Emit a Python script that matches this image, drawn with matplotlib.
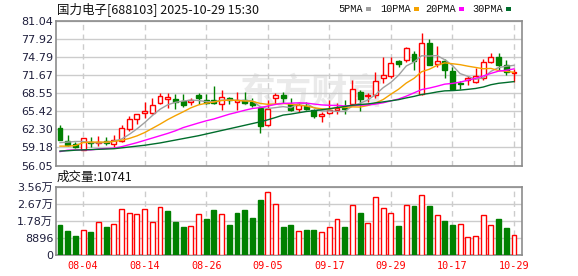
import numpy as np
import matplotlib.pyplot as plt
from matplotlib.patches import Rectangle

plt.rcParams['font.family'] = ['DejaVu Sans', 'Noto Sans CJK SC']

# trading days shown (07-30 .. 10-29)
dates = ['07-30', '07-31', '08-01', '08-04', '08-05', '08-06', '08-07', '08-08', '08-11', '08-12',
         '08-13', '08-14', '08-15', '08-18', '08-19', '08-20', '08-21', '08-22', '08-25', '08-26',
         '08-27', '08-28', '08-29', '09-01', '09-02', '09-03', '09-04', '09-05', '09-08', '09-09',
         '09-10', '09-11', '09-12', '09-15', '09-16', '09-17', '09-18', '09-19', '09-22', '09-23',
         '09-24', '09-25', '09-26', '09-29', '09-30', '10-09', '10-10', '10-13', '10-14', '10-15',
         '10-16', '10-17', '10-20', '10-21', '10-22', '10-23', '10-24', '10-27', '10-28', '10-29']

opens = [62.47, 60.34, 59.77, 58.74, 60.17, 59.95, 60.34, 59.77, 60.29, 62.35,
         64.06, 65.14, 65.09, 66.93, 67.61, 67.58, 67.20, 67.03, 68.23, 67.32,
         67.32, 66.63, 67.66, 67.10, 67.32, 67.10, 66.07, 63.08, 67.78, 68.18,
         66.75, 65.78, 66.40, 65.66, 64.53, 65.21, 65.66, 66.07, 66.75, 68.81,
         68.06, 68.23, 71.21, 71.49, 74.18, 74.23, 75.29, 68.35, 77.22, 73.61,
         74.06, 72.47, 70.36, 70.80, 70.46, 71.21, 73.96, 74.75, 73.49, 72.12]
highs = [63.03, 61.37, 60.17, 60.85, 60.92, 61.20, 61.03, 61.37, 62.98, 64.63,
         65.04, 67.03, 67.66, 68.64, 68.64, 68.47, 68.47, 67.66, 68.64, 68.40,
         69.77, 69.03, 67.89, 68.74, 68.81, 67.66, 66.10, 67.32, 68.52, 68.74,
         67.66, 67.10, 67.10, 65.90, 65.38, 67.32, 66.93, 67.32, 70.92, 69.04,
         68.64, 72.24, 74.75, 74.75, 74.35, 76.46, 75.77, 78.93, 77.95, 76.75,
         74.52, 73.03, 70.63, 71.49, 72.93, 74.47, 75.50, 75.50, 74.23, 72.76]
lows = [60.46, 59.48, 59.09, 58.65, 59.31, 59.48, 59.65, 59.31, 60.12, 62.06,
        63.20, 64.35, 64.92, 66.75, 66.07, 65.90, 66.17, 66.51, 66.63, 66.69,
        66.63, 65.66, 66.75, 65.66, 66.63, 66.17, 61.61, 62.91, 66.75, 66.93,
        65.49, 65.38, 65.60, 64.23, 63.60, 65.04, 65.04, 65.04, 66.63, 65.49,
        67.10, 67.78, 70.36, 71.21, 73.03, 73.96, 72.52, 68.23, 73.37, 73.03,
        71.21, 69.04, 69.21, 69.94, 70.29, 70.92, 73.79, 72.64, 71.78, 70.53]
closes = [60.51, 59.65, 59.26, 60.75, 59.95, 60.17, 60.00, 60.46, 62.52, 64.01,
          64.92, 65.43, 66.51, 68.01, 67.89, 67.06, 66.51, 67.32, 67.66, 66.93,
          66.90, 67.95, 67.37, 67.35, 66.93, 66.51, 62.91, 65.78, 68.18, 67.78,
          65.60, 66.51, 65.78, 64.53, 65.04, 65.60, 66.07, 65.78, 69.21, 67.49,
          68.30, 70.75, 71.78, 73.79, 73.67, 76.29, 74.18, 77.22, 73.49, 74.18,
          72.64, 69.21, 70.18, 71.21, 71.49, 73.96, 74.81, 73.49, 72.20, 72.24]

ma5 = [60.0, 60.1, 60.2, 60.2, 60.02, 59.96, 60.03, 60.27, 60.62, 61.43,
       62.38, 63.47, 64.68, 65.78, 66.55, 66.98, 67.20, 67.36, 67.29, 67.10,
       67.07, 67.36, 67.37, 67.31, 67.31, 67.23, 66.22, 65.90, 66.06, 66.23,
       66.05, 66.77, 66.77, 66.04, 65.49, 65.49, 65.40, 65.40, 66.34, 66.83,
       67.37, 68.31, 69.51, 70.42, 71.66, 73.26, 73.94, 75.03, 74.97, 75.07,
       74.34, 73.35, 71.94, 71.48, 70.95, 71.21, 72.33, 72.99, 73.22, 73.37]
ma10 = [59.4, 59.4, 59.5, 60.0, 60.1, 60.1, 60.1, 60.2, 60.4, 60.73,
        61.17, 61.75, 62.47, 63.20, 63.99, 64.68, 65.33, 66.02, 66.53, 66.82,
        67.03, 67.28, 67.36, 67.30, 67.20, 67.15, 66.79, 66.63, 66.69, 66.77,
        66.64, 66.49, 66.34, 66.05, 65.86, 65.77, 66.09, 66.09, 66.19, 66.16,
        66.43, 66.86, 67.46, 68.38, 69.24, 70.31, 71.12, 72.27, 72.70, 73.37,
        73.80, 73.65, 73.49, 73.23, 73.01, 72.78, 72.84, 72.47, 72.35, 72.16]
ma20 = [58.45, 58.7, 58.75, 58.75, 58.75, 58.9, 59.0, 59.05, 59.3, 59.65,
        60.0, 60.4, 60.8, 61.2, 61.6, 62.05, 62.6, 63.0, 63.4, 63.78,
        64.10, 64.51, 64.92, 65.25, 65.60, 65.91, 66.06, 66.33, 66.61, 66.80,
        66.83, 66.89, 66.85, 66.68, 66.53, 66.46, 66.44, 66.36, 66.44, 66.47,
        66.53, 66.67, 66.90, 67.22, 67.55, 68.04, 68.61, 69.18, 69.44, 69.76,
        70.12, 70.25, 70.47, 70.80, 71.13, 71.54, 71.98, 72.37, 72.52, 72.76]
ma30 = [58.55, 58.6, 58.7, 58.75, 58.8, 58.85, 58.9, 58.95, 59.1, 59.25,
        59.4, 59.55, 59.75, 59.95, 60.2, 60.45, 60.7, 60.95, 61.2, 61.5,
        61.8, 62.1, 62.4, 62.7, 63.0, 63.3, 63.6, 63.95, 64.35, 64.77,
        64.94, 65.17, 65.39, 65.52, 65.69, 65.87, 66.07, 66.25, 66.47, 66.59,
        66.70, 66.88, 67.05, 67.24, 67.44, 67.74, 68.00, 68.33, 68.52, 68.77,
        68.96, 69.00, 69.09, 69.22, 69.37, 69.62, 70.02, 70.27, 70.41, 70.56]

volumes = [15490, 12420, 9870, 12940, 11910, 17030, 14470, 16000, 24030, 21990,
           21630, 24030, 17380, 25210, 23160, 17030, 14470, 15340, 21470, 19070,
           23670, 21630, 15490, 22140, 23670, 19580, 28790, 32880, 26740, 14470,
           15490, 12420, 12940, 12940, 11910, 14470, 18920, 14470, 26230, 22140,
           16520, 30320, 24700, 22140, 14980, 26230, 25720, 31340, 25720, 21120,
           18050, 15490, 16000, 9360, 10230, 21120, 15490, 19070, 13960, 10741]

price_ticks = ['56.05', '59.18', '62.30', '65.42', '68.55', '71.67', '74.79', '77.92', '81.04']
vol_ticks = ['0', '8896', '1.78万', '2.67万', '3.56万']
label_idx = [3, 11, 19, 27, 35, 43, 51, 59]

RED = '#ff0000'
GREEN = '#008000'
GRID = '#cccccc'
FRAME = '#8c8c8c'
TXT = '#1e1e3c'

o = np.array(opens); h = np.array(highs); l = np.array(lows); c = np.array(closes)
x = np.arange(len(dates))
up = c >= o
prev = np.concatenate([[o[0]], c[:-1]])
vup = c >= prev

fig = plt.figure(figsize=(5.78, 2.76), dpi=100)
W, H = 578, 276
ax = fig.add_axes([56 / W, 1 - 165.5 / H, 466 / W, 144.5 / H])
axv = fig.add_axes([56 / W, 1 - 255.3 / H, 466 / W, 68.6 / H])

# watermark
ax.text(0.55, 0.5, '东方财富', transform=ax.transAxes, ha='center', va='center',
        fontsize=26, fontweight='bold', color='#eaeaea', family='Noto Sans CJK SC', zorder=0)

bw = 0.64
for a in (ax, axv):
    a.set_xlim(-0.52, 60.04)
    a.set_xticks(label_idx)
    a.grid(axis='x', color=GRID, linestyle=(0, (4, 3)), linewidth=1)
    a.grid(axis='y', color=GRID, linestyle='-', linewidth=1)
    a.set_axisbelow(True)
    for s in a.spines.values():
        s.set_color(FRAME)
        s.set_linewidth(1.2)
    a.tick_params(length=0, labelsize=8, pad=2, colors=TXT)

# candles
ax.vlines(x[up], l[up], h[up], color=RED, linewidth=1, zorder=2)
ax.vlines(x[~up], l[~up], h[~up], color=GREEN, linewidth=1, zorder=2)
body = np.maximum(np.abs(c - o), 0.06)
ax.bar(x[up], body[up], bottom=o[up], width=bw, facecolor='white', edgecolor=RED,
       linewidth=1, zorder=3)
ax.bar(x[~up], body[~up], bottom=c[~up], width=bw, facecolor=GREEN, edgecolor=GREEN,
       linewidth=1, zorder=3)

ax.plot(x, ma5, color='#a0a0a0', linewidth=1, zorder=4)
ax.plot(x, ma10, color='#f5a200', linewidth=1, zorder=4)
ax.plot(x, ma20, color='#ff00ff', linewidth=1, zorder=4)
ax.plot(x, ma30, color='#006d2c', linewidth=1, zorder=4)

pt = np.linspace(56.05, 81.04, 9)
ax.set_ylim(56.05, 81.04)
ax.set_yticks(pt)
ax.set_yticklabels(price_ticks)
ax.set_xticklabels([])

# volume
v = np.array(volumes)
axv.bar(x[vup], v[vup], width=bw, facecolor='white', edgecolor=RED, linewidth=1, zorder=3)
axv.bar(x[~vup], v[~vup], width=bw, facecolor=GREEN, edgecolor=GREEN, linewidth=1, zorder=3)
axv.set_ylim(0, 35584)
axv.set_yticks(np.linspace(0, 35584, 5))
axv.set_yticklabels(vol_ticks)
axv.set_xticklabels([dates[i] for i in label_idx], family='DejaVu Sans Mono', fontsize=7.3,
                    color=RED)
axv.tick_params(axis='x', pad=4)

# header texts
fig.text(57 / W, 1 - 9 / H, '国力电子[688103] 2025-10-29 15:30', fontsize=9,
         family=['Noto Sans CJK SC', 'DejaVu Sans'], va='center', ha='left', color='#111111')
fig.text(57 / W, 1 - 177 / H, '成交量:10741', fontsize=9,
         family=['Noto Sans CJK SC', 'DejaVu Sans'], va='center', ha='left', color='#111111')

legend = [('5PMA', '#a0a0a0', 338), ('10PMA', '#f5a200', 380),
          ('20PMA', '#ff00ff', 425), ('30PMA', '#006d2c', 472)]
fig.canvas.draw()
rend = fig.canvas.get_renderer()
for name, col, px in legend:
    t = fig.text(px / W, 1 - 9 / H, name, fontsize=7.4, family='Liberation Mono',
                 va='center', ha='left', color='#111111')
    bb = t.get_window_extent(rend)
    fig.patches.append(Rectangle(((bb.x1 + 3) / W, 1 - 11 / H), 5 / W, 4 / H,
                                 transform=fig.transFigure, facecolor=col, edgecolor='none'))

fig.savefig('out.png', dpi=100)
